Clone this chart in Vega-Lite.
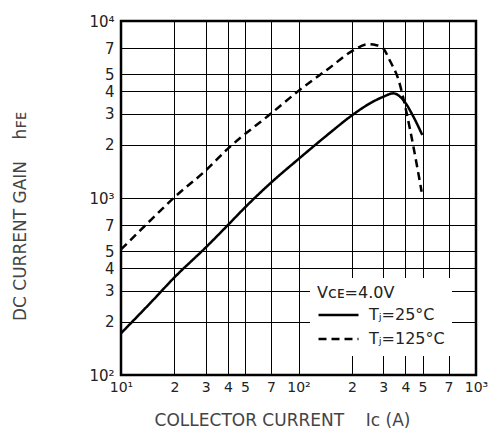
{
  "$schema": "https://vega.github.io/schema/vega-lite/v6.json",
  "width": 355,
  "height": 354,
  "autosize": {"type": "none"},
  "padding": {"left": 121, "top": 21, "right": 20, "bottom": 64},
  "background": "white",
  "config": {
    "view": {"stroke": "black", "strokeWidth": 2.5},
    "font": "DejaVu Sans"
  },
  "data": {
    "values": [
      {"ic": 10, "hfe": 172, "s": "Tⱼ=25°C"},
      {"ic": 15, "hfe": 262, "s": "Tⱼ=25°C"},
      {"ic": 20, "hfe": 356, "s": "Tⱼ=25°C"},
      {"ic": 30, "hfe": 525, "s": "Tⱼ=25°C"},
      {"ic": 40, "hfe": 703, "s": "Tⱼ=25°C"},
      {"ic": 50, "hfe": 885, "s": "Tⱼ=25°C"},
      {"ic": 70, "hfe": 1220, "s": "Tⱼ=25°C"},
      {"ic": 100, "hfe": 1660, "s": "Tⱼ=25°C"},
      {"ic": 150, "hfe": 2330, "s": "Tⱼ=25°C"},
      {"ic": 200, "hfe": 2930, "s": "Tⱼ=25°C"},
      {"ic": 253, "hfe": 3428, "s": "Tⱼ=25°C"},
      {"ic": 300, "hfe": 3730, "s": "Tⱼ=25°C"},
      {"ic": 342, "hfe": 3902, "s": "Tⱼ=25°C"},
      {"ic": 389, "hfe": 3580, "s": "Tⱼ=25°C"},
      {"ic": 444, "hfe": 2880, "s": "Tⱼ=25°C"},
      {"ic": 498, "hfe": 2270, "s": "Tⱼ=25°C"},
      {"ic": 10, "hfe": 512, "s": "Tⱼ=125°C"},
      {"ic": 15, "hfe": 765, "s": "Tⱼ=125°C"},
      {"ic": 20, "hfe": 1010, "s": "Tⱼ=125°C"},
      {"ic": 30, "hfe": 1430, "s": "Tⱼ=125°C"},
      {"ic": 40, "hfe": 1900, "s": "Tⱼ=125°C"},
      {"ic": 70, "hfe": 3000, "s": "Tⱼ=125°C"},
      {"ic": 100, "hfe": 4030, "s": "Tⱼ=125°C"},
      {"ic": 150, "hfe": 5450, "s": "Tⱼ=125°C"},
      {"ic": 200, "hfe": 6750, "s": "Tⱼ=125°C"},
      {"ic": 247, "hfe": 7390, "s": "Tⱼ=125°C"},
      {"ic": 275, "hfe": 7300, "s": "Tⱼ=125°C"},
      {"ic": 300, "hfe": 7000, "s": "Tⱼ=125°C"},
      {"ic": 328, "hfe": 5940, "s": "Tⱼ=125°C"},
      {"ic": 365, "hfe": 4685, "s": "Tⱼ=125°C"},
      {"ic": 407, "hfe": 3010, "s": "Tⱼ=125°C"},
      {"ic": 444, "hfe": 1950, "s": "Tⱼ=125°C"},
      {"ic": 494, "hfe": 1086, "s": "Tⱼ=125°C"}
    ]
  },
  "mark": {"type": "line", "color": "black", "strokeWidth": 2.5, "interpolate": "monotone", "clip": true},
  "encoding": {
    "x": {
      "field": "ic", "type": "quantitative",
      "scale": {"type": "log", "domain": [10, 1000], "nice": false},
      "axis": {
        "values": [10, 20, 30, 40, 50, 70, 100, 200, 300, 400, 500, 700, 1000],
        "labelExpr": "datum.value==10?'10¹':datum.value==100?'10²':datum.value==1000?'10³':datum.value<100?''+round(datum.value/10):''+round(datum.value/100)",
        "grid": true, "gridColor": "black", "gridWidth": 1, "gridOpacity": 1,
        "domain": false, "ticks": false, "labelOverlap": false,
        "labelFontSize": 14, "labelColor": "#222", "labelPadding": 5, "labelFlush": false,
        "title": "COLLECTOR CURRENT\u00a0\u00a0\u00a0\u00a0Iᴄ (A)",
        "titleFontSize": 17, "titleFontWeight": "normal", "titleColor": "#444",
        "titleX": 161, "titleY": 45, "titleAnchor": "middle", "titleBaseline": "middle", "titleAlign": "center"
      }
    },
    "y": {
      "field": "hfe", "type": "quantitative",
      "scale": {"type": "log", "domain": [100, 10000], "nice": false},
      "axis": {
        "values": [100, 200, 300, 400, 500, 700, 1000, 2000, 3000, 4000, 5000, 7000, 10000],
        "labelExpr": "datum.value==100?'10²':datum.value==1000?'10³':datum.value==10000?'10⁴':datum.value<1000?''+round(datum.value/100):''+round(datum.value/1000)",
        "grid": true, "gridColor": "black", "gridWidth": 1, "gridOpacity": 1,
        "domain": false, "ticks": false, "labelOverlap": false,
        "labelFontSize": 15, "labelColor": "#222", "labelPadding": 7, "labelFlush": false,
        "title": "DC CURRENT GAIN\u00a0\u00a0\u00a0\u00a0hꜰᴇ",
        "titleFontSize": 17, "titleFontWeight": "normal", "titleColor": "#444",
        "titleX": -101, "titleY": 195, "titleAngle": 270, "titleAlign": "center", "titleBaseline": "middle", "titleAnchor": "middle"
      }
    },
    "strokeDash": {
      "field": "s", "type": "nominal",
      "scale": {"domain": ["Tⱼ=25°C", "Tⱼ=125°C"], "range": [[1, 0], [8, 5]]},
      "legend": {
        "orient": "none", "legendX": 189, "legendY": 257,
        "title": "Vᴄᴇ=4.0V", "titleFontSize": 16, "titleFontWeight": "normal", "titleColor": "#222", "titlePadding": 4,
        "labelFontSize": 16, "labelColor": "#222", "labelOffset": 9,
        "symbolType": "stroke", "symbolSize": 1600, "symbolStrokeWidth": 2.5, "symbolStrokeColor": "black",
        "clipHeight": 20, "rowPadding": 4,
        "fillColor": "white", "padding": 7
      }
    }
  }
}
